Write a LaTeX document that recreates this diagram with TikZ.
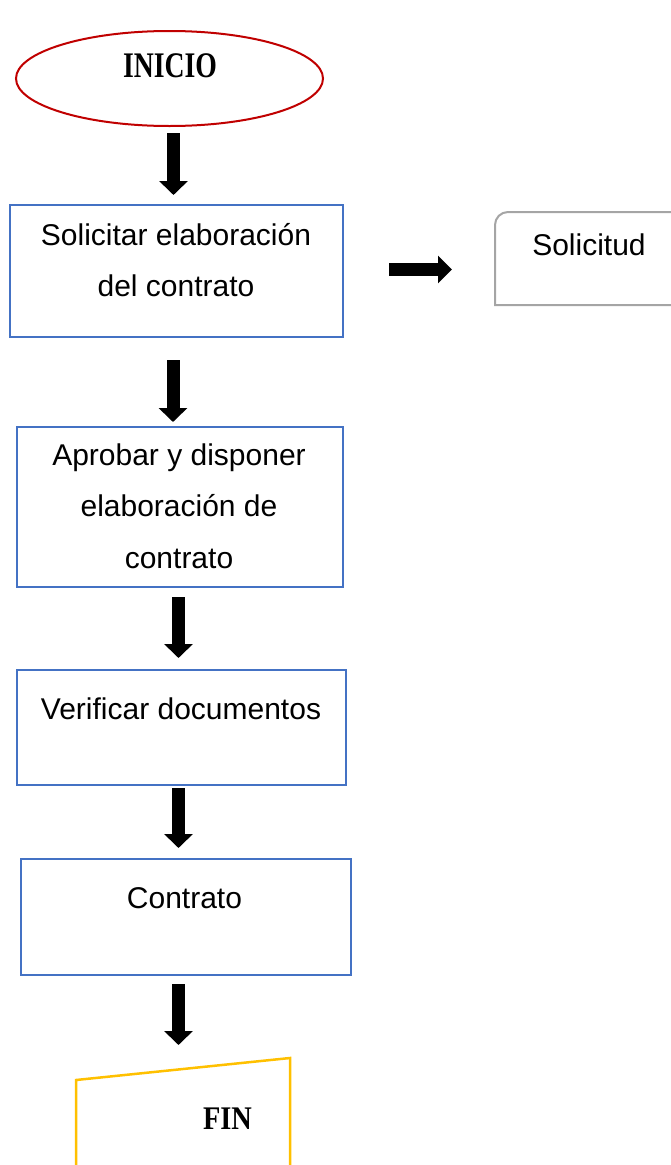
\documentclass[tikz,border=0pt]{standalone}
\usepackage{fontspec}
\setmainfont{Liberation Sans}
\newfontfamily\titlefont{Liberation Serif}
\usetikzlibrary{arrows.meta,shapes.geometric}
\definecolor{boxblue}{HTML}{4472C4}
\definecolor{startred}{HTML}{C00000}
\definecolor{endyellow}{HTML}{FFC000}
\definecolor{docgray}{HTML}{A5A5A5}
\begin{document}
\begin{tikzpicture}[x=1pt,y=-1pt,
  box/.style={draw=boxblue,line width=2pt,rectangle,inner sep=0pt,anchor=north west},
  lbl/.style={inner sep=0pt,anchor=base,font=\fontsize{30}{51.7}\selectfont},
  ttl/.style={inner sep=0pt,anchor=base},
  blk/.style={line width=13pt,-{Triangle[width=28pt,length=14pt]}},
]
\useasboundingbox (0,0) rectangle (671,1165);
\clip (0,0) rectangle (671,1165);

% start
\node[ellipse,draw=startred,line width=2pt,minimum width=307pt,minimum height=95pt,inner sep=0pt] (inicio) at (169.5,78.5) {};
\node[ttl] (iniciotxt) at (170,77) {\scalebox{0.77}[1]{\titlefont\bfseries\fontsize{36}{36}\selectfont INICIO}};

% process boxes
\node[box,minimum width=333pt,minimum height=132pt] (s1) at (9,204) {};
\node[lbl] (s1txt) at (176,245) {\begin{tabular}[t]{@{}c@{}}Solicitar elaboración\\del contrato\end{tabular}};

\node[box,minimum width=326pt,minimum height=160pt] (s2) at (16,426) {};
\node[lbl] (s2txt) at (179,465) {\begin{tabular}[t]{@{}c@{}}Aprobar y disponer\\elaboración de\\contrato\end{tabular}};

\node[box,minimum width=329pt,minimum height=115pt] (s3) at (16,669) {};
\node[lbl] (s3txt) at (181,719) {Verificar documentos};

\node[box,minimum width=330pt,minimum height=116pt] (s4) at (20,858) {};
\node[lbl] (s4txt) at (184.5,908) {Contrato};

% document: Solicitud
\draw[docgray,line width=2pt] (690,212) -- (508,212) arc[start angle=270,end angle=180,radius=13] -- (495,305) -- (690,305);
\node[lbl] (soltxt) at (589,255) {Solicitud};

% end: manual input shape
\draw[endyellow,line width=2.5pt] (76,1175) -- (76,1080) -- (290,1058) -- (290,1175);
\node[ttl] (fintxt) at (227.5,1129) {\scalebox{0.86}[1]{\titlefont\bfseries\fontsize{33}{33}\selectfont FIN}};

% arrows
\coordinate (a1s) at (173.5,133); \coordinate (a1e) at (173.5,195);
\coordinate (a2s) at (173,360);   \coordinate (a2e) at (173,422);
\coordinate (a3s) at (178.5,597); \coordinate (a3e) at (178.5,658);
\coordinate (a4s) at (178.5,788); \coordinate (a4e) at (178.5,848);
\coordinate (a5s) at (178.5,984); \coordinate (a5e) at (178.5,1045);
\coordinate (ars) at (389,269.5); \coordinate (are) at (452,269.5);
\draw[blk] (a1s) -- (a1e);
\draw[blk] (a2s) -- (a2e);
\draw[blk] (a3s) -- (a3e);
\draw[blk] (a4s) -- (a4e);
\draw[blk] (a5s) -- (a5e);
\draw[line width=13pt,-{Triangle[width=27pt,length=14pt]}] (ars) -- (are);
\end{tikzpicture}
\end{document}
